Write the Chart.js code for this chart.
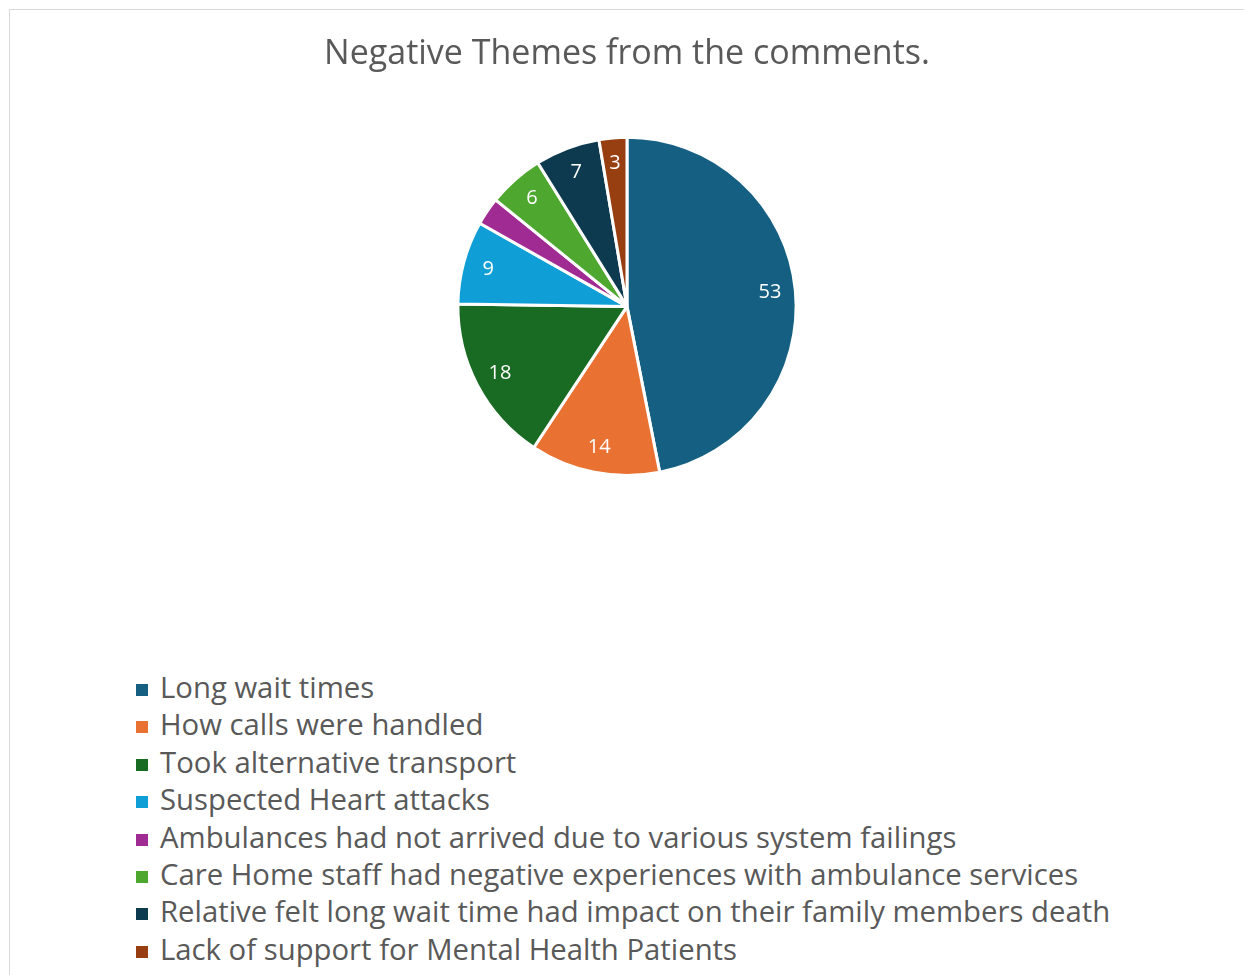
<!DOCTYPE html>
<html>
<head>
<meta charset="utf-8">
<title>Negative Themes</title>
<script src="https://cdn.jsdelivr.net/npm/chart.js@4.4.1/dist/chart.umd.min.js"></script>
<style>
  html, body { margin: 0; padding: 0; background: #fff; overflow: hidden; }
  .frame {
    position: absolute; left: 9px; top: 9px;
    width: 1260px; height: 1000px;
    border: 1px solid #d9d9d9;
    box-sizing: border-box;
  }
  #pie { position: absolute; left: 0; top: 0; }
  .legend {
    position: absolute; left: 126px; top: 659px;
    margin: 0; padding: 0; list-style: none;
    font-family: "Open Sans", sans-serif; font-size: 29.3px; color: #595959;
  }
  .legend li { height: 37.4px; line-height: 37.4px; white-space: nowrap; }
  .legend .box {
    display: inline-block; width: 12px; height: 12px;
    margin-right: 12px; vertical-align: 2px;
  }
</style>
</head>
<body>
<div class="frame">
  <canvas id="pie" width="1234" height="477"></canvas>
  <ul class="legend" id="legend"></ul>
</div>
<script>
'use strict'

const themes = [
  'Long wait times',
  'How calls were handled',
  'Took alternative transport',
  'Suspected Heart attacks',
  'Ambulances had not arrived due to various system failings',
  'Care Home staff had negative experiences with ambulance services',
  'Relative felt long wait time had impact on their family members death',
  'Lack of support for Mental Health Patients'
]
const counts = [53, 14, 18, 9, 3, 6, 7, 3]
// the purple slice carries no value label
const showLabel = [true, true, true, true, false, true, true, true]
const colors = ['#156082', '#e97132', '#196b24', '#0f9ed5', '#a02b93', '#4ea72e', '#0d3a4f', '#983f12']

// writes each count inside its slice, a little in from the rim
const sliceValues = {
  id: 'sliceValues',
  afterDatasetsDraw(chart) {
    const ctx = chart.ctx
    const meta = chart.getDatasetMeta(0)
    ctx.save()
    ctx.fillStyle = '#ffffff'
    ctx.font = '20px "Open Sans", sans-serif'
    ctx.textAlign = 'center'
    ctx.textBaseline = 'middle'
    meta.data.forEach((arc, i) => {
      if (!showLabel[i]) return
      const mid = (arc.startAngle + arc.endAngle) / 2
      const r = arc.outerRadius * 0.85
      ctx.fillText(String(counts[i]), arc.x + Math.cos(mid) * r, arc.y + Math.sin(mid) * r)
    })
    ctx.restore()
  }
}

const chart = new Chart(document.getElementById('pie'), {
  type: 'pie',
  data: {
    labels: themes,
    datasets: [{
      data: counts,
      backgroundColor: colors,
      borderColor: '#ffffff',
      borderWidth: 3
    }]
  },
  options: {
    responsive: false,
    animation: false,
    layout: { padding: { bottom: 10 } },
    plugins: {
      legend: { display: false },
      tooltip: { enabled: false },
      title: {
        display: true,
        text: 'Negative Themes from the comments.',
        color: '#595959',
        font: { family: '"Open Sans", sans-serif', size: 34, weight: 'normal' },
        padding: { top: 24, bottom: 61 }
      }
    }
  },
  plugins: [sliceValues]
})

// one legend entry per row, built from the chart's own legend items
const list = document.getElementById('legend')
chart.options.plugins.legend.labels.generateLabels(chart).forEach(item => {
  const li = document.createElement('li')
  const box = document.createElement('span')
  box.className = 'box'
  box.style.background = item.fillStyle
  li.appendChild(box)
  li.appendChild(document.createTextNode(item.text))
  list.appendChild(li)
})
</script>
</body>
</html>
